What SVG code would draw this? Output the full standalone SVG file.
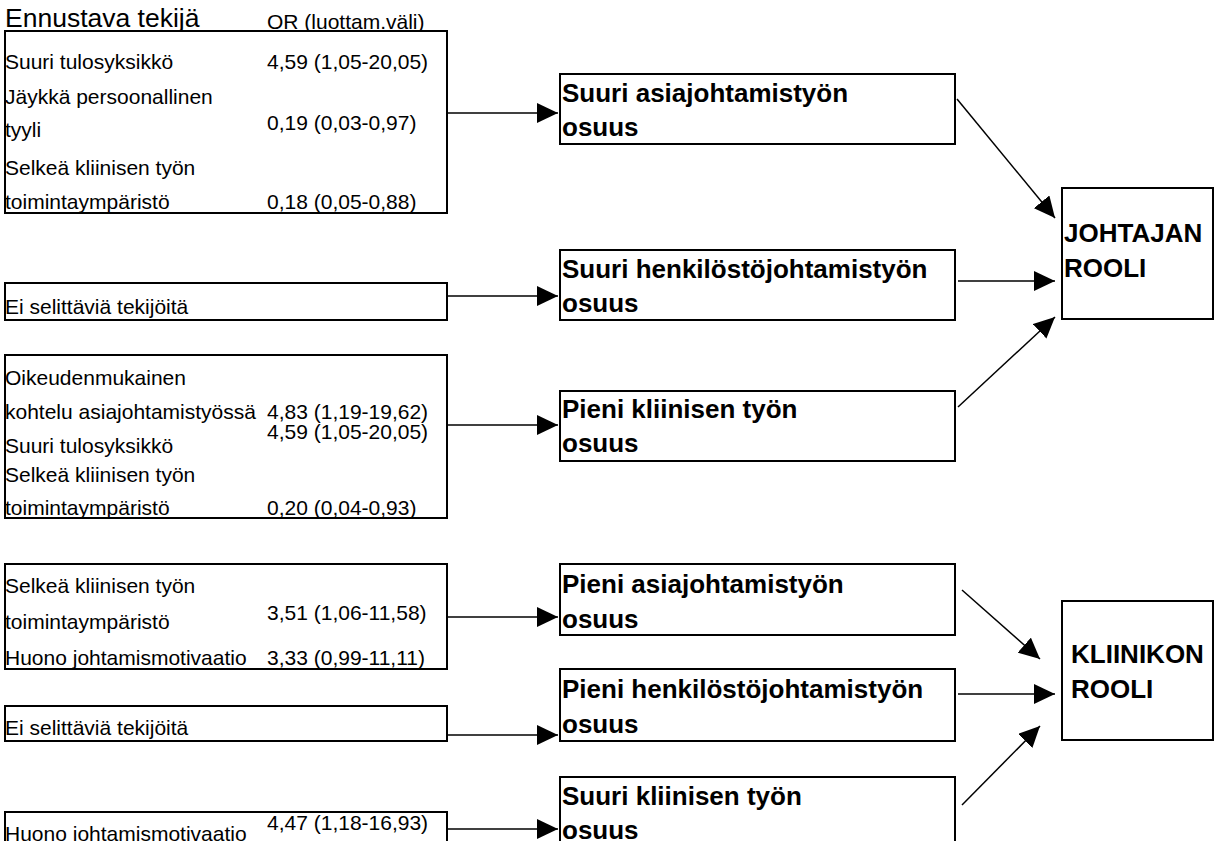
<svg xmlns="http://www.w3.org/2000/svg" width="1216" height="841" viewBox="0 0 1216 841">
<style>
.box{fill:#fff;stroke:#000;stroke-width:2}
.t{font-family:"Liberation Sans",Arial,sans-serif;font-size:21px;fill:#000}
.h{font-family:"Liberation Sans",Arial,sans-serif;font-size:26.5px;fill:#000}
.b{font-family:"Liberation Sans",Arial,sans-serif;font-size:26px;font-weight:bold;fill:#000}
.c{stroke:#000;stroke-width:1.5;fill:none;marker-end:url(#ah)}
</style>
<defs>
<marker id="ah" markerUnits="userSpaceOnUse" markerWidth="22" markerHeight="20" refX="21" refY="10" orient="auto">
<path d="M0,0 L21,10 L0,20 Z" fill="#000"/>
</marker>
</defs>
<rect width="1216" height="841" fill="#fff"/>
<g id="header">
<text class="h" x="5" y="27">Ennustava tekijä</text>
<text class="t" x="267" y="29">OR (luottam.väli)</text>
</g>
<g id="left1">
<rect class="box" x="5" y="31" width="442" height="182"/>
<text class="t" x="5" y="69">Suuri tulosyksikkö</text>
<text class="t" x="267" y="69">4,59 (1,05-20,05)</text>
<text class="t" x="5" y="104">Jäykkä persoonallinen</text>
<text class="t" x="5" y="137">tyyli</text>
<text class="t" x="267" y="130">0,19 (0,03-0,97)</text>
<text class="t" x="5" y="175">Selkeä kliinisen työn</text>
<text class="t" x="5" y="209">toimintaympäristö</text>
<text class="t" x="267" y="209">0,18 (0,05-0,88)</text>
</g>
<g id="left2">
<rect class="box" x="5" y="283" width="442" height="37"/>
<text class="t" x="5" y="314">Ei selittäviä tekijöitä</text>
</g>
<g id="left3">
<rect class="box" x="5" y="355" width="442" height="163"/>
<text class="t" x="5" y="385">Oikeudenmukainen</text>
<text class="t" x="5" y="419">kohtelu asiajohtamistyössä</text>
<text class="t" x="267" y="419">4,83 (1,19-19,62)</text>
<text class="t" x="267" y="439">4,59 (1,05-20,05)</text>
<text class="t" x="5" y="453">Suuri tulosyksikkö</text>
<text class="t" x="5" y="482">Selkeä kliinisen työn</text>
<text class="t" x="5" y="515">toimintaympäristö</text>
<text class="t" x="267" y="515">0,20 (0,04-0,93)</text>
</g>
<g id="left4">
<rect class="box" x="5" y="564" width="442" height="105"/>
<text class="t" x="5" y="593">Selkeä kliinisen työn</text>
<text class="t" x="5" y="629">toimintaympäristö</text>
<text class="t" x="267" y="620">3,51 (1,06-11,58)</text>
<text class="t" x="5" y="665">Huono johtamismotivaatio</text>
<text class="t" x="267" y="665">3,33 (0,99-11,11)</text>
</g>
<g id="left5">
<rect class="box" x="5" y="706" width="442" height="35"/>
<text class="t" x="5" y="735">Ei selittäviä tekijöitä</text>
</g>
<g id="left6">
<rect class="box" x="5" y="812" width="442" height="40"/>
<text class="t" x="5" y="841">Huono johtamismotivaatio</text>
<text class="t" x="267" y="830">4,47 (1,18-16,93)</text>
</g>
<g id="mid1">
<rect class="box" x="560" y="74" width="395" height="70"/>
<text class="b" x="562" y="102">Suuri asiajohtamistyön</text>
<text class="b" x="562" y="136">osuus</text>
</g>
<g id="mid2">
<rect class="box" x="560" y="250" width="395" height="70"/>
<text class="b" x="562" y="278">Suuri henkilöstöjohtamistyön</text>
<text class="b" x="562" y="312">osuus</text>
</g>
<g id="mid3">
<rect class="box" x="560" y="391" width="395" height="70"/>
<text class="b" x="562" y="418">Pieni kliinisen työn</text>
<text class="b" x="562" y="452">osuus</text>
</g>
<g id="mid4">
<rect class="box" x="560" y="564" width="395" height="71"/>
<text class="b" x="562" y="593">Pieni asiajohtamistyön</text>
<text class="b" x="562" y="628">osuus</text>
</g>
<g id="mid5">
<rect class="box" x="560" y="669" width="395" height="72"/>
<text class="b" x="562" y="698">Pieni henkilöstöjohtamistyön</text>
<text class="b" x="562" y="733">osuus</text>
</g>
<g id="mid6">
<rect class="box" x="560" y="777" width="395" height="80"/>
<text class="b" x="562" y="805">Suuri kliinisen työn</text>
<text class="b" x="562" y="839">osuus</text>
</g>
<g id="johtaja">
<rect class="box" x="1062" y="188" width="151" height="131"/>
<text class="b" x="1064" y="242">JOHTAJAN</text>
<text class="b" x="1064" y="277">ROOLI</text>
</g>
<g id="kliinikko">
<rect class="box" x="1062" y="601" width="151" height="139"/>
<text class="b" x="1071" y="663">KLIINIKON</text>
<text class="b" x="1071" y="698">ROOLI</text>
</g>
<g id="connectors">
<line class="c" x1="447" y1="113" x2="558" y2="113"/>
<line class="c" x1="447" y1="296" x2="558" y2="296"/>
<line class="c" x1="447" y1="425" x2="558" y2="425"/>
<line class="c" x1="447" y1="617" x2="558" y2="617"/>
<line class="c" x1="447" y1="735" x2="558" y2="735"/>
<line class="c" x1="447" y1="829" x2="558" y2="829"/>
<line class="c" x1="957" y1="99" x2="1055" y2="218"/>
<line class="c" x1="958" y1="281" x2="1055" y2="281"/>
<line class="c" x1="958" y1="407" x2="1055" y2="317"/>
<line class="c" x1="962" y1="590" x2="1040" y2="659"/>
<line class="c" x1="958" y1="694" x2="1055" y2="694"/>
<line class="c" x1="962" y1="805" x2="1040" y2="726"/>
</g>
</svg>
